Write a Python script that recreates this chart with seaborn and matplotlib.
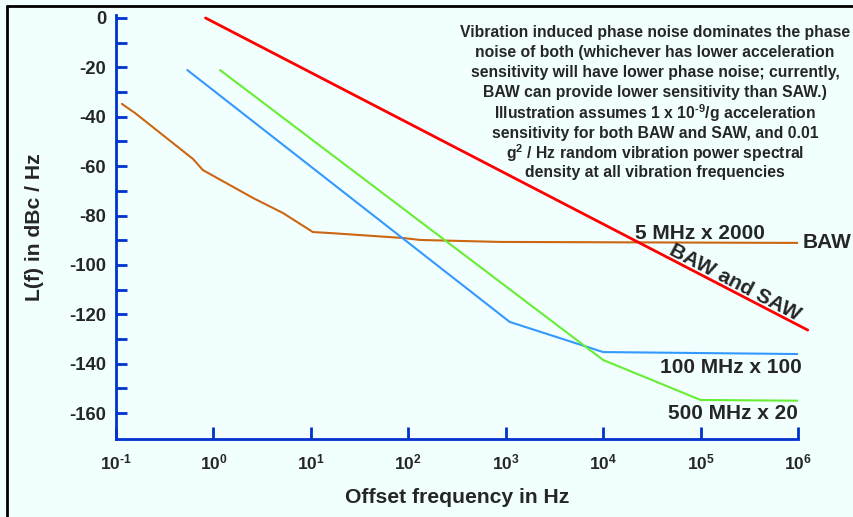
import numpy as np
import pandas as pd
import matplotlib
matplotlib.use('Agg')
import matplotlib.pyplot as plt
import seaborn as sns
from matplotlib.lines import Line2D
from matplotlib.ticker import FixedLocator, FixedFormatter

# data (offset frequency in Hz, L(f) in dBc/Hz)
baw_and_saw_f = [0.83, 1.26e6]
baw_and_saw_db = [0, -126.4]

baw_5mhz_f = [0.115, 0.157, 0.617, 0.78, 2.55, 5.18, 10.5, 15.7, 88, 132, 871, 1e6]
baw_5mhz_db = [-34.8, -38.5, -57.1, -61.6, -72.9, -79.0, -86.7, -87.1, -89.1, -89.9, -90.7, -91.1]

saw_100mhz_f = [0.54, 1100, 1e4, 1e6]
saw_100mhz_db = [-21.1, -123.1, -135.3, -136.1]

saw_500mhz_f = [1.17, 1e4, 1e5, 1e6]
saw_500mhz_db = [-21.1, -138.5, -154.7, -155.0]

x_ticks = [1e-1, 1e0, 1e1, 1e2, 1e3, 1e4, 1e5, 1e6]
x_labels = [r'$10^{\text{-}1}$', r'$10^{0}$', r'$10^{1}$', r'$10^{2}$',
            r'$10^{3}$', r'$10^{4}$', r'$10^{5}$', r'$10^{6}$']
y_ticks = [0, -20, -40, -60, -80, -100, -120, -140, -160]
y_labels = ['0', '-20', '-40', '-60', '-80', '-100', '-120', '-140', '-160']
y_minor = [-10, -30, -50, -70, -90, -110, -130, -150]

note_lines = [
    'Vibration induced phase noise dominates the phase',
    'noise of both (whichever has lower acceleration',
    'sensitivity will have lower phase noise; currently,',
    'BAW can provide lower sensitivity than SAW.)',
    r'Illustration assumes 1 x 10$^{\text{-}9}$/g acceleration',
    'sensitivity for both BAW and SAW, and 0.01',
    r'g$^{2}$ / Hz random vibration power spectral',
    'density at all vibration frequencies',
]

BG = '#F2FFFF'
AXC = '#0033CC'

sns.set_theme(style='white')
plt.rcParams['font.family'] = ['Liberation Sans', 'DejaVu Sans']
plt.rcParams['font.weight'] = 'bold'
plt.rcParams['mathtext.fontset'] = 'custom'
plt.rcParams['mathtext.rm'] = 'Liberation Sans:bold'
plt.rcParams['mathtext.bf'] = 'Liberation Sans:bold'
plt.rcParams['mathtext.default'] = 'bf'

fig = plt.figure(figsize=(8.54, 5.17), dpi=100, facecolor=BG)
ax = fig.add_axes([0.1358, 0.1509, 0.7986, 0.8201])
ax.set_facecolor(BG)

series = [
    (baw_5mhz_f, baw_5mhz_db, '#CC6611', 1.5),
    (saw_100mhz_f, saw_100mhz_db, '#3399FF', 1.5),
    (saw_500mhz_f, saw_500mhz_db, '#66EE33', 1.5),
    (baw_and_saw_f, baw_and_saw_db, '#FF0000', 2.0),
]
for f, db, col, lw in series:
    d = pd.DataFrame({'f': f, 'db': db})
    sns.lineplot(data=d, x='f', y='db', color=col, lw=lw, sort=False, ax=ax)
# red line runs slightly past the axis end
ax.lines[-1].set_clip_on(False)

ax.set_xscale('log')
ax.set_xlim(0.1, 1e6)
ax.set_ylim(-170.5, 1.2)

ax.xaxis.set_major_locator(FixedLocator(x_ticks))
ax.xaxis.set_major_formatter(FixedFormatter(x_labels))
ax.xaxis.set_minor_locator(FixedLocator([]))
ax.yaxis.set_major_locator(FixedLocator(y_ticks))
ax.yaxis.set_major_formatter(FixedFormatter(y_labels))
ax.yaxis.set_minor_locator(FixedLocator(y_minor))

ax.tick_params(axis='y', which='both', direction='in', length=8, width=2,
               color=AXC, labelsize=13.3, pad=7, left=True)
ax.tick_params(axis='x', which='major', direction='in', length=9, width=2,
               color=AXC, labelsize=12.5, pad=10, bottom=True)

for s in ['top', 'right']:
    ax.spines[s].set_visible(False)
for s in ['left', 'bottom']:
    ax.spines[s].set_color(AXC)
    ax.spines[s].set_linewidth(2)

ax.set_xlabel('Offset frequency in Hz', fontsize=15.2, fontweight='bold', labelpad=11)
ax.set_ylabel('L(f) in dBc / Hz', fontsize=15.2, fontweight='bold', labelpad=18)

# curve labels
ax.text(2.1e4, -89.5, '5 MHz x 2000', fontsize=15, fontweight='bold', ha='left', va='baseline')
ax.text(1.12e6, -91, 'BAW', fontsize=15, fontweight='bold', ha='left', va='center', clip_on=False)
ax.text(2.25e5, -107.3, 'BAW and SAW', fontsize=15, fontweight='bold', ha='center', va='center',
        rotation=-27.5, rotation_mode='anchor')
ax.text(1.1e6, -141.5, '100 MHz x 100', fontsize=15, fontweight='bold', ha='right', va='center')
ax.text(1.0e6, -160, '500 MHz x 20', fontsize=15, fontweight='bold', ha='right', va='center')

# explanatory note, one line at a time so line spacing stays even
for i, line in enumerate(note_lines):
    fig.text(655 / 854, 1 - (33 + 20 * i) / 517, line, fontsize=11.3, fontweight='bold',
             ha='center', va='center')

# partial black frame (top and left edges)
fig.add_artist(Line2D([7 / 854, 7 / 854], [0, 1 - 6 / 517], color='black', lw=2))
fig.add_artist(Line2D([7 / 854, 1], [1 - 6 / 517, 1 - 6 / 517], color='black', lw=2))

fig.savefig('out.png', dpi=100, facecolor=BG)
